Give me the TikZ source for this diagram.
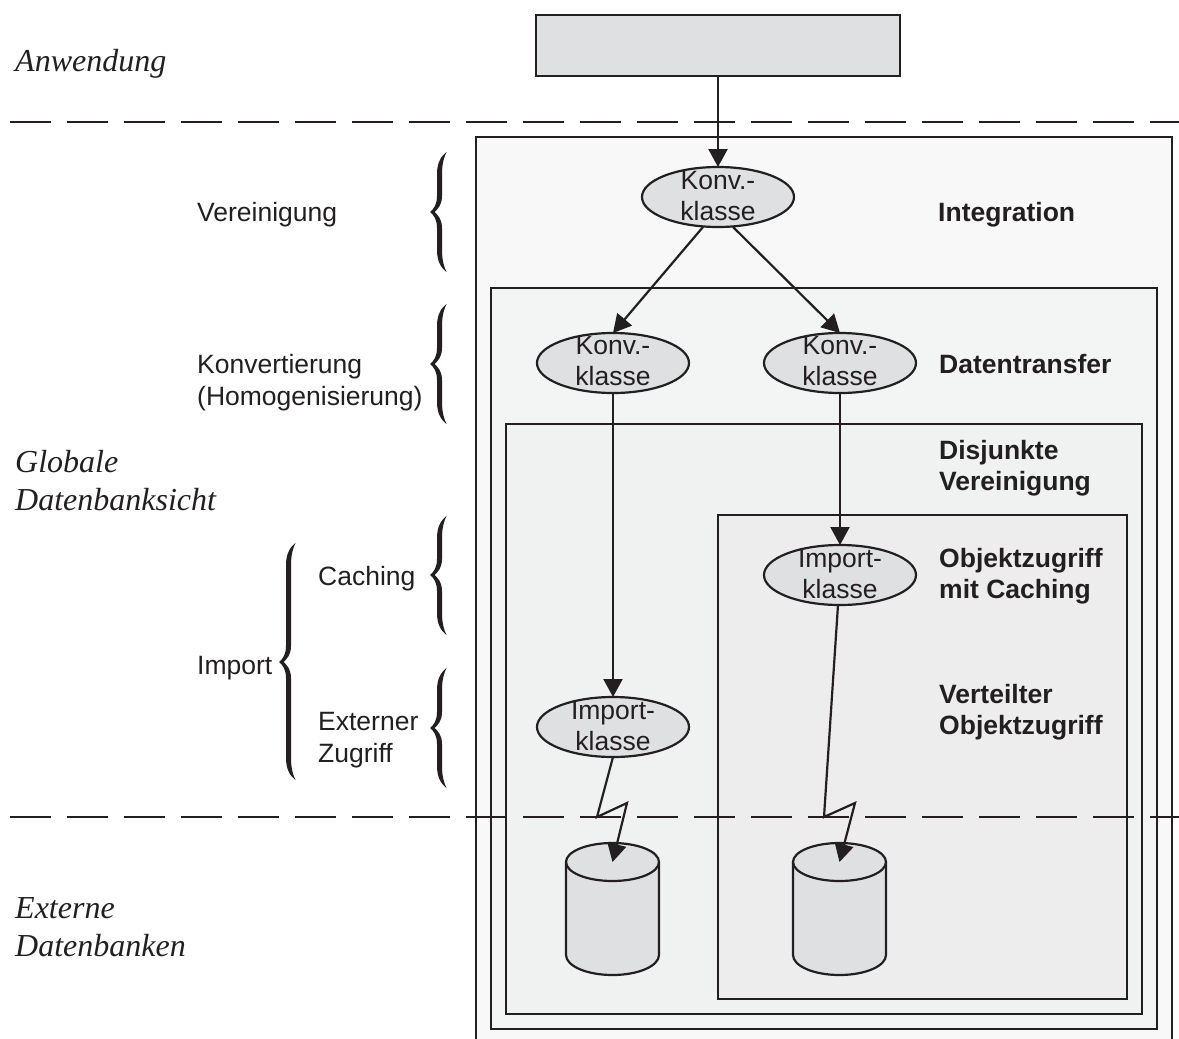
\documentclass[tikz,border=0pt]{standalone}
\usepackage{fontspec}
\setmainfont{Liberation Serif}
\setsansfont{Liberation Sans}
\usetikzlibrary{arrows.meta,shapes.geometric}
\definecolor{ink}{HTML}{231F20}
\definecolor{shape}{HTML}{DFE0E2}
\definecolor{boxa}{HTML}{F8F8F8}
\definecolor{boxb}{HTML}{F3F5F5}
\definecolor{boxc}{HTML}{F0F2F1}
\definecolor{boxd}{HTML}{ECEDEC}
\newcommand{\cbrace}[4]{% tip x, top y, tip y, bottom y
  \fill[ink] ({#1+16.5},{#2}) .. controls ({#1+11},{#2+4}) and ({#1+7},{#2+11}) .. ({#1+7},{#2+22})
    -- ({#1+7},{#3-16}) .. controls ({#1+7},{#3-8}) and ({#1+4},{#3-3}) .. (#1,#3)
    .. controls ({#1+4},{#3+3}) and ({#1+7},{#3+8}) .. ({#1+7},{#3+16})
    -- ({#1+7},{#4-22}) .. controls ({#1+7},{#4-11}) and ({#1+11},{#4-4}) .. ({#1+16.5},#4)
    .. controls ({#1+14},{#4-5}) and ({#1+12},{#4-12}) .. ({#1+12},{#4-22})
    -- ({#1+12},{#3+16}) .. controls ({#1+12},{#3+7}) and ({#1+7},{#3+2}) .. ({#1+4.5},#3)
    .. controls ({#1+7},{#3-2}) and ({#1+12},{#3-7}) .. ({#1+12},{#3-16})
    -- ({#1+12},{#2+22}) .. controls ({#1+12},{#2+12}) and ({#1+14},{#2+5}) .. ({#1+16.5},{#2}) -- cycle;
}
\newcommand{\dbshape}[1]{%
  \path[fill=shape] ([xshift=-46.5pt]#1) -- ([xshift=-46.5pt,yshift=-93pt]#1) arc[start angle=180,end angle=360,x radius=46.5pt,y radius=20pt] -- ([xshift=46.5pt]#1) arc[start angle=0,end angle=180,x radius=46.5pt,y radius=19pt] -- cycle;
  \draw[line] ([xshift=-46.5pt]#1) -- ([xshift=-46.5pt,yshift=-93pt]#1) arc[start angle=180,end angle=360,x radius=46.5pt,y radius=20pt] -- ([xshift=46.5pt]#1);
  \draw[line] (#1) ellipse[x radius=46.5pt,y radius=19pt];
}
\tikzset{
  line/.style={draw=ink,line width=2.2pt,line join=miter},
  arr/.style={line,-{Triangle[length=18pt,width=19pt,fill=ink]}},
  klasse/.style={ellipse,line,fill=shape,minimum width=152pt,minimum height=60pt,inner sep=0pt,outer sep=0pt},
  ktext/.style={font=\sffamily\fontsize{26.5}{31}\selectfont,text=ink,align=center,inner sep=0pt,outer sep=0pt,yshift=1pt},
  sans/.style={font=\sffamily\fontsize{26.5}{32}\selectfont,text=ink,align=left,inner sep=0pt,anchor=west},
  bold/.style={font=\sffamily\bfseries\fontsize{26.5}{31.5}\selectfont,text=ink,align=left,inner sep=0pt,anchor=west},
  ital/.style={font=\itshape\fontsize{32}{38}\selectfont,text=ink,align=left,inner sep=0pt,anchor=west},
  layer/.style={line,rectangle,inner sep=0pt,outer sep=0pt,anchor=north west},
  sep/.style={draw=ink,line width=2.2pt,dash pattern=on 41pt off 16pt}
}
\begin{document}
\begin{tikzpicture}[x=1pt,y=-1pt]
\useasboundingbox[fill=white] (0,0) rectangle (1179,1039);
% nested layers
\node[layer,fill=boxa,minimum width=696pt,minimum height=920pt] (outer) at (476,137) {};
\node[layer,fill=boxb,minimum width=666pt,minimum height=741pt] (transfer) at (491,288) {};
\node[layer,fill=boxc,minimum width=636pt,minimum height=590pt] (disjoint) at (506,424) {};
\node[layer,fill=boxd,minimum width=409pt,minimum height=484pt] (access) at (718,515) {};
% application
\node[layer,fill=shape,minimum width=364pt,minimum height=61pt] (app) at (536,15) {};
% classes
\node[klasse,label={[ktext]center:Konv.-\\klasse}] (k1) at (718,197) {};
\node[klasse,label={[ktext,yshift=1pt]center:Konv.-\\klasse}] (k2) at (613,363) {};
\node[klasse,label={[ktext,yshift=1pt]center:Konv.-\\klasse}] (k3) at (840,363) {};
\node[klasse,label={[ktext]center:Import-\\klasse}] (i2) at (840,575) {};
\node[klasse,label={[ktext]center:Import-\\klasse}] (i1) at (613,727) {};
% databases
\coordinate (db1) at (612.5,862);
\coordinate (db2) at (839.5,862);
\dbshape{db1}
\dbshape{db2}
% separators
\coordinate (s1a) at (10,122); \coordinate (s1b) at (1179,122);
\coordinate (s2a) at (10,817); \coordinate (s2b) at (1179,817);
\draw[sep] (s1a) -- (s1b);
\draw[sep] (s2a) -- (s2b);
% connectors
\draw[arr] (app.south) -- (k1.north);
\draw[arr] ([xshift=-15pt]k1.south) -- (k2.north);
\draw[arr] ([xshift=15pt]k1.south) -- (k3.north);
\draw[arr] (k2.south) -- (i1.north);
\draw[arr] (k3.south) -- (i2.north);
\coordinate (z1a) at (597,817); \coordinate (z1b) at (627,803);
\coordinate (z2a) at (824,817); \coordinate (z2b) at (855,803);
\draw[arr] (i1.south) -- (z1a) -- (z1b) -- (db1);
\draw[arr] ([xshift=-2pt]i2.south) -- (z2a) -- (z2b) -- (db2);
% braces
\cbrace{430}{152}{212}{272}
\cbrace{430}{304}{364}{424}
\cbrace{430}{516}{575}{635}
\cbrace{430}{668}{728}{788}
\cbrace{279}{543}{662}{780}
% labels
\node[ital] (anw) at (15,64) {Anwendung};
\node[ital] (glob) at (15,481) {Globale\\Datenbanksicht};
\node[ital] (ext) at (15,927) {Externe\\Datenbanken};
\node[sans] (ver) at (197,215) {Vereinigung};
\node[sans] (kon) at (197,382.5) {Konvertierung\\(Homogenisierung)};
\node[sans] (cach) at (318,579) {Caching};
\node[sans] (imp) at (197,668) {Import};
\node[sans] (exz) at (318,740.5) {Externer\\Zugriff};
\node[bold] (integ) at (938,215) {Integration};
\node[bold] (dt) at (939,364.5) {Datentransfer};
\node[bold] (dis) at (939,468) {Disjunkte\\Vereinigung};
\node[bold] (obj) at (939,576) {Objektzugriff\\mit Caching};
\node[bold] (vert) at (939,712) {Verteilter\\Objektzugriff};
\end{tikzpicture}
\end{document}
